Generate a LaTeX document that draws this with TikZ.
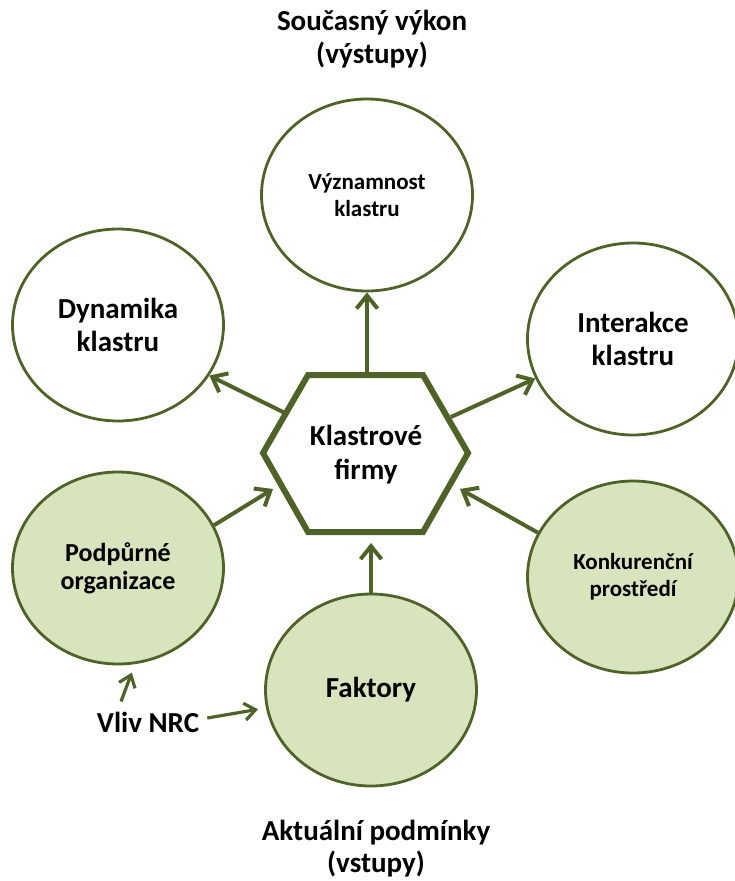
\documentclass[tikz,border=0pt]{standalone}
\usepackage{fontspec}
\setmainfont{Carlito}
\usetikzlibrary{shapes.geometric, arrows.meta}
\definecolor{olivova}{HTML}{4F6228}
\definecolor{svetla}{HTML}{D7E4BD}

\begin{document}
\begin{tikzpicture}[x=1pt, y=-1pt,
  >={Straight Barb[length=13pt, width=21pt]},
  kruh/.style={ellipse, draw=olivova, line width=2.8pt, minimum width=211pt,
    minimum height=192pt, inner sep=0pt, align=center},
  velke/.style={font=\fontsize{29}{33}\selectfont\bfseries, align=center},
  stredni/.style={font=\fontsize{26}{28}\selectfont\bfseries, align=center},
  male/.style={font=\fontsize{23}{27}\selectfont\bfseries, align=center},
  sipka/.style={->, olivova, line width=4pt},
  tenka/.style={->, olivova, line width=3.2pt,
    >={Straight Barb[length=11pt, width=17pt]}}]

  \useasboundingbox (0,0) rectangle (734,881);

  % --- Nadpisy ---
  \node[velke, font=\fontsize{29}{33}\selectfont\bfseries] (vykon) at (372,39)
    {Současný výkon\\(výstupy)};
  \node[velke, font=\fontsize{29}{32}\selectfont\bfseries] (podminky) at (376,849)
    {Aktuální podmínky\\(vstupy)};

  % --- Sestiuhelnik ---
  \draw[olivova, line width=6pt, line join=miter]
    (263,453) -- (308,375) -- (423,375) -- (468,453) -- (423,532) -- (308,532) -- cycle;
  \node[velke, font=\fontsize{29}{34}\selectfont\bfseries] (firmy) at (366,455)
    {Klastrové\\firmy};

  % --- Body na sestiuhelniku ---
  \coordinate (hexN)  at (367,375);
  \coordinate (hexNW) at (285,413);
  \coordinate (hexNE) at (451,417);
  \coordinate (hexSW) at (273,489);
  \coordinate (hexSE) at (460,489);
  \coordinate (hexS)  at (371,543);

  % --- Vystupy ---
  \node[kruh, male] (vyz) at (367,195) {Významnost\\klastru};
  \node[kruh, velke] (dyn) at (118,325) {Dynamika\\klastru};
  \node[kruh, velke] (int) at (633,339) {Interakce\\klastru};

  % --- Vstupy ---
  \node[kruh, stredni, fill=svetla] (pod) at (118,568) {Podpůrné\\organizace};
  \node[kruh, male, fill=svetla] (kon) at (633,577) {Konkurenční\\prostředí};
  \node[kruh, velke, fill=svetla] (fak) at (371,690) {Faktory};

  % --- Sipky ---
  \draw[sipka] (hexN) -- (vyz);
  \draw[sipka] (hexNW) -- (dyn.-29);
  \draw[sipka] (hexNE) -- (int.202);
  \draw[sipka] (pod.24) -- (hexSW);
  \draw[sipka] (kon.155) -- (hexSE);
  \draw[sipka] (fak) -- (hexS);

  % --- Vliv NRC ---
  \node[velke, inner sep=0pt] (nrc) at (148,722) {Vliv NRC};
  \draw[tenka, shorten >=9pt] ([xshift=-27pt, yshift=10pt]nrc.north) -- (pod.-80);
  \draw[tenka, shorten >=8pt] ([xshift=8pt, yshift=4pt]nrc.east) -- (fak);

\end{tikzpicture}
\end{document}
